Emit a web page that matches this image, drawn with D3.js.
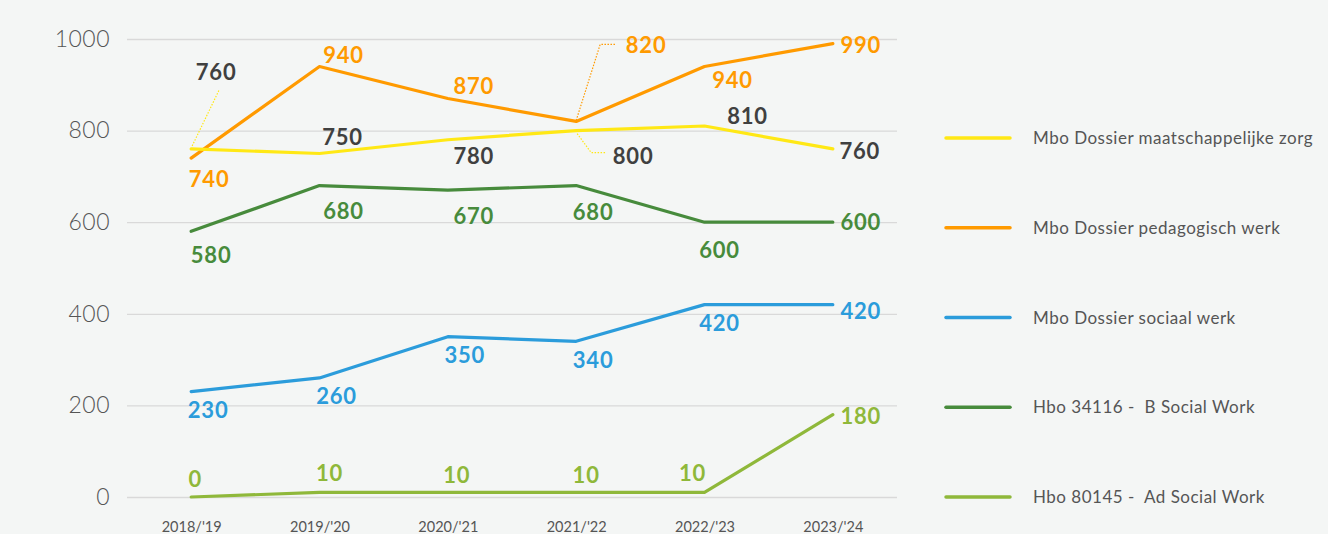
<!DOCTYPE html>
<html>
<head>
<meta charset="utf-8">
<script src="https://cdn.jsdelivr.net/npm/d3@7"></script>
<style>
  body { margin: 0; background: #f4f6f5; }
  svg { display: block; font-family: Lato, 'Open Sans', sans-serif; }
</style>
</head>
<body>
<div class="canvas"></div>
<script>
const years = ["2018/'19", "2019/'20", "2020/'21", "2021/'22", "2022/'23", "2023/'24"];
const yTicks = [0, 200, 400, 600, 800, 1000];

const seriesNames = [
    'Mbo Dossier maatschappelijke zorg',
    'Mbo Dossier pedagogisch werk',
    'Mbo Dossier sociaal werk',
    'Hbo 34116 -  B Social Work',
    'Hbo 80145 -  Ad Social Work'
];
const zorg = [760, 750, 780, 800, 810, 760];
const pedagogisch = [740, 940, 870, 820, 940, 990];
const sociaal = [230, 260, 350, 340, 420, 420];
const socialWork = [580, 680, 670, 680, 600, 600];
const adSocialWork = [0, 10, 10, 10, 10, 180];

const colours = ['#ffe815', '#ff9a00', '#2b9cdb', '#478b3c', '#8fb83a'];
const labelColours = ['#404040', '#ff9a00', '#2b9cdb', '#478b3c', '#8fb83a'];

// label offsets [dx, dy] from the point (text centre / baseline)
const labelOffsets = [
    [[25, -70], [23, -10], [26, 23], [57, 32], [43, -3], [27, 9]],
    [[18, 28], [24, -4], [26, -6], [70, -69], [28, 21], [28, 8]],
    [[17, 25], [17, 25], [17, 25], [17, 26], [15, 25], [28, 13]],
    [[20, 31], [24, 32], [26, 33], [17, 33], [15, 35], [28, 7]],
    [[4, -11], [10, -12], [9, -10], [10, -10], [-12, -12], [28, 8]]
];

const allSeries = [zorg, pedagogisch, sociaal, socialWork, adSocialWork];

const dims = { width: 1328, height: 534 };
const plot = { left: 127, right: 897, top: 39, bottom: 497 };

const svg = d3.select('.canvas')
    .append('svg')
    .attr('width', dims.width)
    .attr('height', dims.height);

svg.append('rect')
    .attr('width', dims.width)
    .attr('height', dims.height)
    .attr('fill', '#f4f6f5');

const x = d3.scalePoint()
    .domain(years)
    .range([plot.left, plot.right])
    .padding(0.5);

const y = d3.scaleLinear()
    .domain([0, 1000])
    .range([plot.bottom, plot.top]);

// grid
const yAxis = d3.axisLeft(y)
    .tickValues(yTicks)
    .tickSize(-(plot.right - plot.left))
    .tickPadding(17)
    .tickFormat(d3.format('d'));

const gy = svg.append('g')
    .attr('transform', `translate(${plot.left}, 0)`)
    .call(yAxis);
gy.select('.domain').remove();
gy.selectAll('line').attr('stroke', '#d9d9d9').attr('stroke-width', 1.3);
gy.selectAll('text')
    .attr('fill', '#555')
    .attr('font-size', 23)
    .attr('font-weight', 300)
    .attr('letter-spacing', 0.5)
    .attr('font-family', 'Lato, sans-serif');

const xAxis = d3.axisBottom(x).tickSize(0).tickPadding(0);
const gx = svg.append('g')
    .attr('transform', `translate(0, ${plot.bottom})`)
    .call(xAxis);
gx.select('.domain').remove();
gx.selectAll('text')
    .attr('fill', '#555')
    .attr('font-size', 14.5)
    .attr('font-weight', 400)
    .attr('dy', null)
    .attr('y', 35)
    .attr('font-family', 'Lato, sans-serif');

// leader lines for displaced labels
const leaders = [
    { s: 0, i: 0, pts: [[1, -3], [28, -59]] },
    { s: 0, i: 3, pts: [[1, 3], [15, 22], [29, 22]] },
    { s: 1, i: 3, pts: [[0, -1], [24, -77], [40, -77]] }
];
leaders.forEach(l => {
    const px = x(years[l.i]);
    const py = y(allSeries[l.s][l.i]);
    svg.append('path')
        .attr('d', d3.line()(l.pts.map(p => [px + p[0], py + p[1]])))
        .attr('fill', 'none')
        .attr('stroke', colours[l.s])
        .attr('stroke-width', 1.2)
        .attr('stroke-dasharray', '1.5,1.5');
});

const line = d3.line()
    .x((d, i) => x(years[i]))
    .y(d => y(d));

// draw bottom-most series first so yellow sits on top like the original
const drawOrder = [4, 3, 2, 1, 0];
drawOrder.forEach(s => {
    svg.append('path')
        .datum(allSeries[s])
        .attr('d', line)
        .attr('fill', 'none')
        .attr('stroke', colours[s])
        .attr('stroke-width', 3.2)
        .attr('stroke-linejoin', 'round')
        .attr('stroke-linecap', 'round');
});

allSeries.forEach((data, s) => {
    svg.append('g')
        .selectAll('text')
        .data(data)
        .enter()
        .append('text')
        .attr('x', (d, i) => x(years[i]) + labelOffsets[s][i][0])
        .attr('y', (d, i) => y(d) + labelOffsets[s][i][1] + 1)
        .attr('text-anchor', 'middle')
        .attr('font-size', 22)
        .attr('font-weight', 700)
        .attr('letter-spacing', 0.8)
        .attr('fill', labelColours[s])
        .text(d => d);
});

// legend
const legend = d3.scaleBand()
    .domain(seriesNames)
    .range([93, 542]);

const lg = svg.append('g')
    .selectAll('g')
    .data(seriesNames)
    .enter()
    .append('g')
    .attr('transform', d => `translate(946, ${legend(d) + legend.bandwidth() / 2})`);

lg.append('line')
    .attr('x1', 0).attr('x2', 64)
    .attr('stroke', (d, i) => colours[i])
    .attr('stroke-width', 3.5)
    .attr('stroke-linecap', 'round');

lg.append('text')
    .attr('x', 87)
    .attr('y', 6)
    .attr('font-size', 17)
    .attr('font-weight', 400)
    .attr('letter-spacing', 0.5)
    .attr('fill', '#555')
    .style('white-space', 'pre')
    .text(d => d);
</script>
</body>
</html>
